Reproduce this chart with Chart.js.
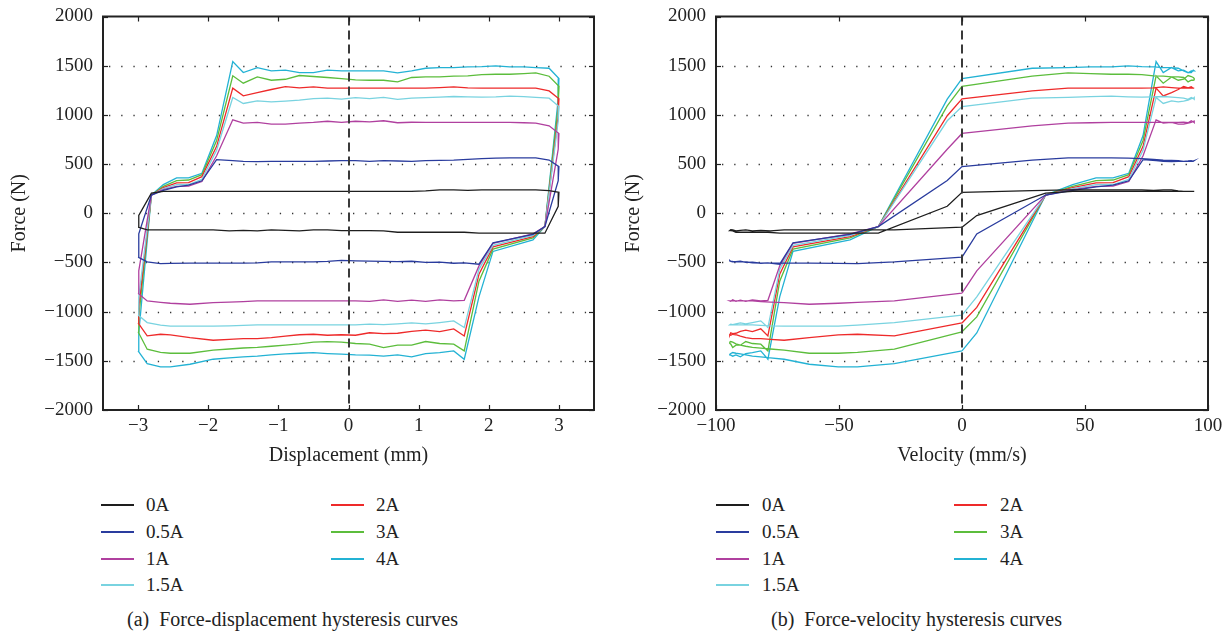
<!DOCTYPE html>
<html><head><meta charset="utf-8">
<script src="https://cdn.jsdelivr.net/npm/chart.js@4.4.1/dist/chart.umd.min.js"></script>
<style>
body{margin:0;background:#fff;width:1232px;height:637px;position:relative;overflow:hidden;font-family:'Liberation Serif','Times New Roman',serif;color:#222}
canvas{position:absolute;top:0}
#ca{left:0}#cb{left:616px}
.it{position:absolute;height:22px;line-height:22px;font-size:19px;white-space:nowrap}
.sw{position:absolute;height:2px}
.cap{position:absolute;font-size:20px;line-height:24px;white-space:nowrap}
</style></head><body>
<canvas id="ca" width="616" height="470"></canvas>
<canvas id="cb" width="616" height="470"></canvas>
<div id="leg"></div>
<script>
// ---- data ----
const seriesNames = ['0A','0.5A','1A','1.5A','2A','3A','4A'];
const seriesColors = ['#1e1e1e','#2a3c9e','#b0409f','#79d3e0','#ee2a2a','#5cbd3c','#23b2d4'];

// one recorded cycle: displacement (mm) and velocity (mm/s) at each sample
const dispMM = [-3.00,-2.99,-2.81,-2.64,-2.45,-2.28,-2.09,-1.88,-1.65,-1.50,-1.30,-1.10,-0.90,-0.70,-0.50,-0.30,-0.10,0.10,0.30,0.50,0.70,0.90,1.10,1.30,1.50,1.70,1.90,2.10,2.30,2.50,2.67,2.86,3.00,2.99,2.80,2.63,2.06,1.86,1.65,1.50,1.30,1.10,0.90,0.70,0.50,0.30,0.10,-0.10,-0.30,-0.50,-0.70,-0.90,-1.10,-1.30,-1.50,-1.70,-1.93,-2.26,-2.54,-2.68,-2.87,-3.00];
const velMMs = [0,6,34,45,54.5,61.4,67.8,73.6,78.9,81.8,85.2,87.9,90.1,91.9,93.2,94.0,94.4,94.4,94.0,93.2,91.9,90.1,87.9,85.2,81.8,77.9,73.1,67.5,60.7,52.2,43.1,28.5,0,-6,-34,-45.5,-68.7,-74.1,-78.9,-81.8,-85.2,-87.9,-90.1,-91.9,-93.2,-94.0,-94.4,-94.4,-94.0,-93.2,-91.9,-90.1,-87.9,-85.2,-81.8,-77.9,-72.3,-62.1,-50.3,-42.5,-27.5,0];

// force (N) per current at those samples
const force0A = [-142,-23,205,223,223,223,223,223,223,223,223,223,223,223,223,223,223,223,223,223,223,223,228,237,237,232,237,237,237,237,237,230,213,71,-203,-203,-203,-203,-193,-193,-193,-193,-193,-193,-180,-176,-176,-176,-168,-170,-180,-175,-170,-180,-175,-180,-170,-168,-170,-168,-168,-142];
const force05A = [-446,-210,185,232,268,285,330,545,535,528,524,528,528,528,528,531,535,535,528,535,531,528,535,538,541,548,555,560,562,562,562,541,474,332,-135,-215,-300,-518,-505,-508,-497,-500,-488,-492,-490,-487,-485,-480,-490,-495,-495,-495,-495,-505,-508,-508,-508,-508,-510,-512,-495,-446];
const force1A = [-812,-585,185,240,274,276,322,585,950,917,923,906,906,916,923,935,923,935,928,940,920,925,923,923,923,923,923,923,923,920,917,889,811,651,-135,-209,-305,-535,-885,-891,-880,-895,-884,-895,-880,-895,-891,-891,-891,-891,-891,-891,-891,-891,-898,-903,-908,-925,-915,-905,-891,-812];
const force15A = [-1035,-850,185,250,290,292,345,640,1177,1116,1143,1133,1140,1150,1165,1170,1160,1175,1165,1177,1158,1170,1175,1180,1187,1183,1180,1183,1190,1185,1177,1170,1085,940,-135,-225,-326,-570,-1162,-1094,-1111,-1125,-1115,-1125,-1132,-1128,-1135,-1135,-1135,-1135,-1135,-1135,-1135,-1135,-1140,-1145,-1148,-1148,-1148,-1138,-1111,-1035];
const force2A = [-1115,-957,185,261,308,311,372,680,1272,1193,1227,1258,1288,1275,1285,1271,1271,1271,1271,1271,1271,1271,1271,1278,1285,1275,1271,1271,1271,1271,1271,1244,1163,991,-135,-237,-342,-620,-1247,-1175,-1203,-1189,-1200,-1220,-1223,-1215,-1240,-1235,-1240,-1230,-1235,-1250,-1265,-1274,-1274,-1282,-1291,-1264,-1236,-1230,-1247,-1115];
const force3A = [-1205,-1054,185,273,331,338,392,740,1397,1322,1386,1352,1362,1400,1390,1380,1369,1356,1352,1352,1335,1380,1386,1386,1393,1397,1410,1413,1413,1420,1427,1393,1290,1092,-135,-250,-365,-690,-1399,-1331,-1324,-1304,-1341,-1341,-1365,-1330,-1324,-1310,-1304,-1310,-1328,-1340,-1352,-1363,-1370,-1380,-1392,-1423,-1423,-1415,-1382,-1205];
const force4A = [-1399,-1217,185,291,359,359,406,790,1542,1430,1481,1447,1454,1430,1430,1454,1447,1447,1447,1447,1427,1447,1474,1481,1481,1488,1490,1498,1488,1488,1481,1474,1369,1160,-135,-270,-388,-850,-1484,-1399,-1416,-1426,-1460,-1440,-1453,-1443,-1440,-1433,-1426,-1416,-1423,-1430,-1440,-1453,-1460,-1470,-1484,-1535,-1562,-1562,-1528,-1399];

const yTickVals = [-2000,-1500,-1000,-500,0,500,1000,1500,2000];
const xTickDisp = [-3,-2,-1,0,1,2,3];
const xTickVel = [-100,-50,0,50,100];

const forces = [force0A,force05A,force1A,force15A,force2A,force3A,force4A];
// ---- end data ----

const FONT = "'Liberation Serif','Times New Roman',serif";
const fmt = v => String(v).replace('-', '\u2212');

const framePlugin = {
  id: 'frame',
  beforeDatasetsDraw(chart) {
    const {ctx, chartArea: a, scales: {y}} = chart;
    ctx.save();
    ctx.strokeStyle = '#333'; ctx.lineWidth = 1.3; ctx.setLineDash([1.3, 10.9]);
    y.ticks.forEach(t => {
      if (t.value <= y.min || t.value >= y.max) return;
      const py = Math.round(y.getPixelForValue(t.value)) + 0.5;
      ctx.beginPath(); ctx.moveTo(a.left + 6, py); ctx.lineTo(a.right - 2, py); ctx.stroke();
    });
    ctx.restore();
  },
  afterDatasetsDraw(chart) {
    const {ctx, chartArea: a, scales: {x, y}} = chart;
    ctx.save();
    const px = Math.round(x.getPixelForValue(0));
    ctx.strokeStyle = '#3a3a3a'; ctx.lineWidth = 2; ctx.setLineDash([9, 5]);
    ctx.beginPath(); ctx.moveTo(px, a.top); ctx.lineTo(px, a.bottom); ctx.stroke();
    ctx.setLineDash([]);
    ctx.strokeStyle = '#222'; ctx.lineWidth = 1.2;
    x.ticks.forEach(t => {
      const p = Math.round(x.getPixelForValue(t.value)) + 0.5;
      ctx.beginPath(); ctx.moveTo(p, a.bottom); ctx.lineTo(p, a.bottom - 5); ctx.stroke();
      ctx.beginPath(); ctx.moveTo(p, a.top); ctx.lineTo(p, a.top + 5); ctx.stroke();
    });
    y.ticks.forEach(t => {
      const p = Math.round(y.getPixelForValue(t.value)) + 0.5;
      ctx.beginPath(); ctx.moveTo(a.left, p); ctx.lineTo(a.left + 5, p); ctx.stroke();
      ctx.beginPath(); ctx.moveTo(a.right, p); ctx.lineTo(a.right - 5, p); ctx.stroke();
    });
    ctx.strokeStyle = '#222'; ctx.lineWidth = 2;
    ctx.strokeRect(a.left, a.top, a.right - a.left, a.bottom - a.top);
    ctx.restore();
  }
};

function makeChart(id, xs, xMin, xMax, xTicks, xTitle, yAxisW, padRight, yTitlePad) {
  const datasets = forces.map((f, i) => ({
    label: seriesNames[i],
    data: f.map((v, j) => ({x: xs[j], y: v})),
    borderColor: seriesColors[i],
    borderWidth: 1.3,
    pointRadius: 0,
    showLine: true,
    fill: false,
    tension: 0
  }));
  return new Chart(document.getElementById(id), {
    type: 'scatter',
    data: {datasets},
    options: {
      responsive: false, animation: false, events: [],
      layout: {padding: {left: 0, right: padRight, top: 16.5, bottom: 2}},
      plugins: {legend: {display: false}, tooltip: {enabled: false}},
      scales: {
        x: {
          type: 'linear', min: xMin, max: xMax,
          afterBuildTicks: s => { s.ticks = xTicks.map(v => ({value: v})); },
          afterFit: s => { s.height = 58; s.paddingLeft = 0; s.paddingRight = 0; },
          grid: {display: false, drawTicks: false},
          border: {display: false},
          ticks: {callback: fmt, color: '#222', font: {family: FONT, size: 19}, padding: 5, maxRotation: 0, autoSkip: false},
          title: {display: true, text: xTitle, color: '#222', font: {family: FONT, size: 20}, padding: {top: 0, bottom: 0}}
        },
        y: {
          type: 'linear', min: -2000, max: 2000,
          afterBuildTicks: s => { s.ticks = yTickVals.map(v => ({value: v})); },
          afterFit: s => { s.width = yAxisW; s.paddingTop = 0; s.paddingBottom = 0; },
          grid: {display: false, drawTicks: false},
          border: {display: false},
          ticks: {callback: fmt, color: '#222', font: {family: FONT, size: 19}, padding: 10},
          title: {display: true, text: 'Force (N)', color: '#222', font: {family: FONT, size: 20}, padding: {top: yTitlePad, bottom: 0}}
        }
      }
    },
    plugins: [framePlugin]
  });
}

makeChart('ca', dispMM, -3.5, 3.5, xTickDisp, 'Displacement (mm)', 103, 22, 8);
makeChart('cb', velMMs, -100, 100, xTickVel, 'Velocity (mm/s)', 100, 24, 6);

// legends and captions
const leg = document.getElementById('leg');
const rowsY = [505, 532, 558.5, 585];
function legend(swX1, txtX1, swX2, txtX2) {
  seriesNames.forEach((n, i) => {
    const col = i < 4 ? 0 : 1;
    const row = i < 4 ? i : i - 4;
    const y = rowsY[row];
    const sw = document.createElement('div');
    sw.className = 'sw';
    sw.style.left = (col ? swX2 : swX1) + 'px';
    sw.style.width = '33px';
    sw.style.top = (y - 1) + 'px';
    sw.style.background = seriesColors[i];
    leg.appendChild(sw);
    const t = document.createElement('div');
    t.className = 'it';
    t.style.left = (col ? txtX2 : txtX1) + 'px';
    t.style.top = (y - 11) + 'px';
    t.textContent = n;
    leg.appendChild(t);
  });
}
legend(101, 146, 331, 376);
legend(716, 762, 954, 1000);
function caption(x, text) {
  const c = document.createElement('div');
  c.className = 'cap';
  c.style.left = x + 'px';
  c.style.top = (619 - 12) + 'px';
  c.textContent = text;
  leg.appendChild(c);
}
caption(127, '(a)\u2002Force-displacement hysteresis curves');
caption(771, '(b)\u2002Force-velocity hysteresis curves');
</script>
</body></html>
